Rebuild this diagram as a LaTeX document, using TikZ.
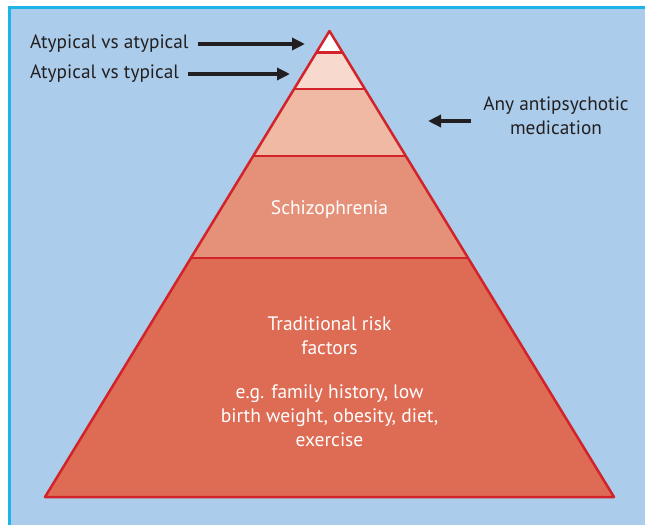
\documentclass[tikz,border=0pt]{standalone}
\usepackage{fontspec}
\setmainfont{PT Sans}
\usetikzlibrary{arrows.meta}
\definecolor{bgblue}{HTML}{ABCDEB}
\definecolor{framecyan}{HTML}{1EB4E8}
\definecolor{redline}{HTML}{D2232A}
\definecolor{txtdark}{HTML}{231F20}
\definecolor{layA}{HTML}{FFFFFF}
\definecolor{layB}{HTML}{F7DACD}
\definecolor{layC}{HTML}{F0B9A4}
\definecolor{layD}{HTML}{E5917A}
\definecolor{layE}{HTML}{DE6B54}
\tikzset{
  x=1pt, y=-1pt,
  lbl/.style={font=\fontsize{19.3}{24}\selectfont, text=txtdark, inner sep=0pt},
  inlbl/.style={font=\fontsize{19.5}{24}\selectfont, text=white, inner sep=0pt, align=center},
  arr/.style={draw=txtdark, line width=3.8pt, -{Triangle[length=13pt,width=12pt]}},
  edge/.style={draw=redline, line width=2.5pt, line join=round},
}
\begin{document}
\begin{tikzpicture}
\useasboundingbox (0,0) rectangle (645,525);
\fill[white] (0,0) rectangle (645,525);
\fill[bgblue] (9,7) rectangle (645,525);
\draw[framecyan, line width=3pt] (9,525) -- (9,7) -- (645,7);
% layers
\fill[layE] (45,497) -- (614,497) -- (468.1,258) -- (190.9,258) -- cycle;
\fill[layD] (190.9,258) -- (468.1,258) -- (405.8,156) -- (253.2,156) -- cycle;
\fill[layC] (253.2,156) -- (405.8,156) -- (364.9,89) -- (294.1,89) -- cycle;
\fill[layB] (294.1,89) -- (364.9,89) -- (342.5,52.3) -- (316.5,52.3) -- cycle;
\fill[layA] (316.5,52.3) -- (342.5,52.3) -- (329.5,31) -- cycle;
\draw[edge] (45,497) -- (614,497) -- (329.5,31) -- cycle;
\draw[edge] (316.5,52.3) -- (342.5,52.3);
\draw[edge] (294.1,89) -- (364.9,89);
\draw[edge] (253.2,156) -- (405.8,156);
\draw[edge] (190.9,258) -- (468.1,258);
% labels
\node[lbl, anchor=west] (aa) at (30,44) {Atypical vs atypical};
\node[lbl, anchor=west] (at) at (30,74) {Atypical vs typical};
\node[lbl, align=center] (any) at (556,116) {Any antipsychotic\\medication};
\coordinate (aaend) at (305,44);
\coordinate (atend) at (290,74);
\coordinate (anystart) at (471,121);
\coordinate (anyend) at (428,121);
\draw[arr] ([xshift=9pt]aa.east) -- (aaend);
\draw[arr] ([xshift=9pt]at.east) -- (atend);
\draw[arr] (anystart) -- (anyend);
\node[inlbl] (schiz) at (329.5,210) {Schizophrenia};
\node[inlbl] (trad) at (329.5,336) {Traditional risk\\factors};
\node[inlbl] (eg) at (329.5,416) {e.g. family history, low\\birth weight, obesity, diet,\\exercise};
\end{tikzpicture}
\end{document}
